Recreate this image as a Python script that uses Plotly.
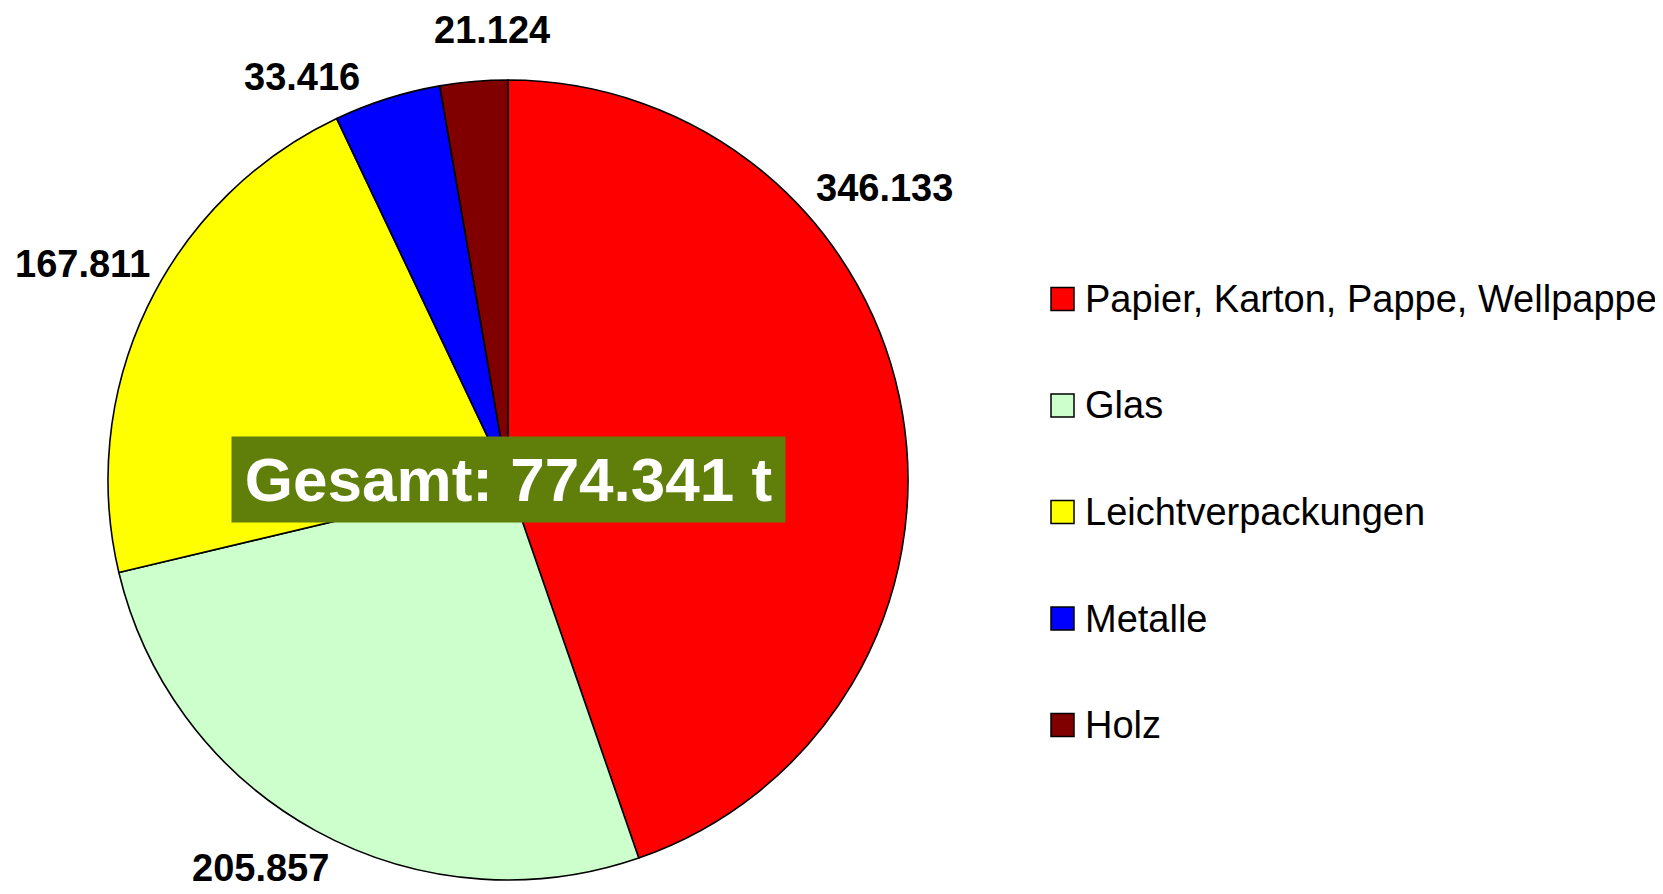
import plotly.graph_objects as go

# ---- data ----
categories = ["Papier, Karton, Pappe, Wellpappe", "Glas", "Leichtverpackungen", "Metalle", "Holz"]
values = [346133, 205857, 167811, 33416, 21124]
colors = ["#FF0000", "#CCFFCC", "#FFFF00", "#0000FF", "#800000"]

# ---- layout constants ----
PAGE_OFF = 8                      # browser body margin
W, H = 1663 - PAGE_OFF, 894 - PAGE_OFF
FONT = "Liberation Sans, Arial, sans-serif"
# label anchor positions in page pixels (layout only)
label_pos = [(884, 188), (260, 868), (82, 264), (302, 77), (492, 30)]


def de_num(v):
    return f"{v:,}".replace(",", ".")


def px(x, y):
    return (x - PAGE_OFF) / W, 1 - (y - PAGE_OFF) / H


dx0, dy0 = px(108, 880)
dx1, dy1 = px(908, 80)

fig = go.Figure()
fig.add_trace(go.Pie(
    labels=categories,
    values=values,
    sort=False,
    direction="clockwise",
    rotation=0,
    marker=dict(colors=colors, line=dict(color="#000000", width=1.6)),
    textinfo="none",
    hoverinfo="label+value+percent",
    showlegend=False,
    domain=dict(x=[dx0, dx1], y=[dy0, dy1]),
))

annotations = []
for v, (lx, ly) in zip(values, label_pos):
    x, y = px(lx, ly)
    annotations.append(dict(
        x=x, y=y, xref="paper", yref="paper", text=f"<b>{de_num(v)}</b>",
        showarrow=False, xanchor="center", yanchor="middle",
        font=dict(family=FONT, size=38, color="#000000"),
    ))

# total box
cx, cy = px(508.5, 479.5)
annotations.append(dict(
    x=cx, y=cy, xref="paper", yref="paper",
    text=f"<b>Gesamt: {de_num(sum(values))} t</b>",
    showarrow=False, xanchor="center", yanchor="middle",
    font=dict(family=FONT, size=62, color="#FFFFFF"),
    bgcolor="#5F7F0A", width=553, height=85, borderpad=0,
))

# manual legend
shapes = []
leg_x0, leg_y0, leg_step, sq = 1051, 299, 106.5, 23
for i, (cat, col) in enumerate(zip(categories, colors)):
    yc = leg_y0 + i * leg_step
    x0, y0 = px(leg_x0, yc - sq / 2)
    x1, y1 = px(leg_x0 + sq, yc + sq / 2)
    shapes.append(dict(type="rect", xref="paper", yref="paper", x0=x0, x1=x1, y0=y1, y1=y0,
                       fillcolor=col, line=dict(color="#000000", width=1.5)))
    tx, ty = px(1083, yc)
    annotations.append(dict(
        x=tx, y=ty, xref="paper", yref="paper", text=cat, showarrow=False,
        xanchor="left", yanchor="middle",
        font=dict(family=FONT, size=38, color="#000000"),
    ))

fig.update_layout(
    width=W, height=H,
    margin=dict(l=0, r=0, t=0, b=0),
    paper_bgcolor="#FFFFFF", plot_bgcolor="#FFFFFF",
    annotations=annotations, shapes=shapes,
    showlegend=False,
)

fig.write_html("out.html")
